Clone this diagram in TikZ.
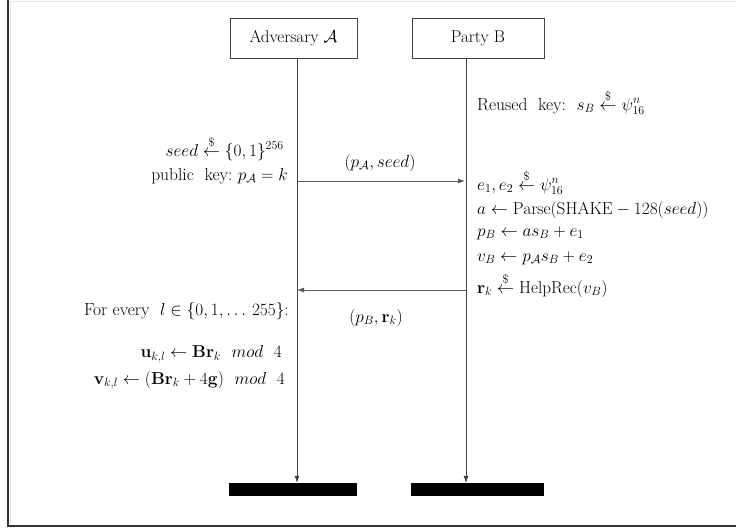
\documentclass[tikz,border=0pt]{standalone}
\usepackage{amsmath,amssymb}
\usetikzlibrary{arrows.meta}
\newcommand{\rnd}{\mathrel{\overset{\$}{\leftarrow}}}
\begin{document}
\begin{tikzpicture}[x=1pt,y=-1pt,
  party/.style={draw=black!75,line width=0.8pt,minimum width=127pt,minimum height=40pt,font=\fontsize{17}{20}\selectfont,inner sep=0pt},
  endbar/.style={fill=black,draw=black,minimum width=127pt,minimum height=12pt,inner sep=0pt},
  life/.style={draw=black!75,line width=0.7pt,-{Latex[length=7pt,width=5pt]}},
  msg/.style={draw=black!65,line width=0.9pt,-{Latex[length=7pt,width=5pt]}},
  txt/.style={font=\fontsize{17.5}{20}\selectfont,inner sep=0pt},
  lefttxt/.style={txt,anchor=east},
  righttxt/.style={txt,anchor=west}]
\useasboundingbox (0,0) rectangle (736,529);
% frame
\draw[black!10,line width=1pt] (10,1.5) -- (736,1.5);
\draw[black!10,line width=1pt] (10.5,1.5) -- (10.5,526);
\draw[black!80,line width=1.2pt] (8,0) -- (8,526) -- (736,526);
% parties
\node[party] (adv) at (293.5,38) {Adversary $\mathcal{A}$};
\node[party,minimum width=132pt] (pb) at (478,38) {Party B};
\node[endbar] (barA) at (293,489) {};
\node[endbar,minimum width=132pt] (barB) at (477.5,489) {};
% lifelines
\draw[life] ([xshift=3.5pt]adv.south) -- ([xshift=3.5pt]adv.south |- barA.north);
\draw[life] ([xshift=-12pt]pb.south) -- ([xshift=-12pt]pb.south |- barB.north);
% messages
\coordinate (m1a) at (297,181);
\coordinate (m1b) at (465,181);
\coordinate (m2a) at (297,290);
\coordinate (m2b) at (466,290);
\draw[msg] (m1a) -- (m1b);
\draw[msg] (m2b) -- (m2a);
\node[txt] (lab1) at (380,163) {$(p_{\mathcal{A}},seed)$};
\node[txt] (lab2) at (376,318) {$(p_B,\mathbf{r}_k)$};
% adversary side
\node[lefttxt] (t1) at (284,148) {$seed\rnd\{0,1\}^{256}$};
\node[lefttxt] (t2) at (288,176) {public\ \ key:\ $p_{\mathcal{A}}=k$};
\node[lefttxt] (t3) at (289,311) {For every\ \ $l\in\{0,1,\ldots\,255\}$:};
\node[lefttxt] (t4) at (282,354) {$\mathbf{u}_{k,l}\leftarrow\mathbf{Br}_k\ \ mod\ \ 4$};
\node[lefttxt] (t5) at (285,380) {$\mathbf{v}_{k,l}\leftarrow(\mathbf{Br}_k+4\mathbf{g})\ \ mod\ \ 4$};
% party B side
\node[righttxt] (r1) at (477,102) {Reused\ \ key:\ \ $s_B\rnd\psi_{16}^{n}$};
\node[righttxt] (r2) at (477,182) {$e_1,e_2\rnd\psi_{16}^{n}$};
\node[righttxt] (r3) at (477,210) {$a\leftarrow\mathrm{Parse}(\mathrm{SHAKE}-128(seed))$};
\node[righttxt] (r4) at (477,233) {$p_B\leftarrow as_B+e_1$};
\node[righttxt] (r5) at (477,258) {$v_B\leftarrow p_{\mathcal{A}}s_B+e_2$};
\node[righttxt] (r6) at (477,285) {$\mathbf{r}_k\rnd\mathrm{HelpRec}(v_B)$};
\end{tikzpicture}
\end{document}
